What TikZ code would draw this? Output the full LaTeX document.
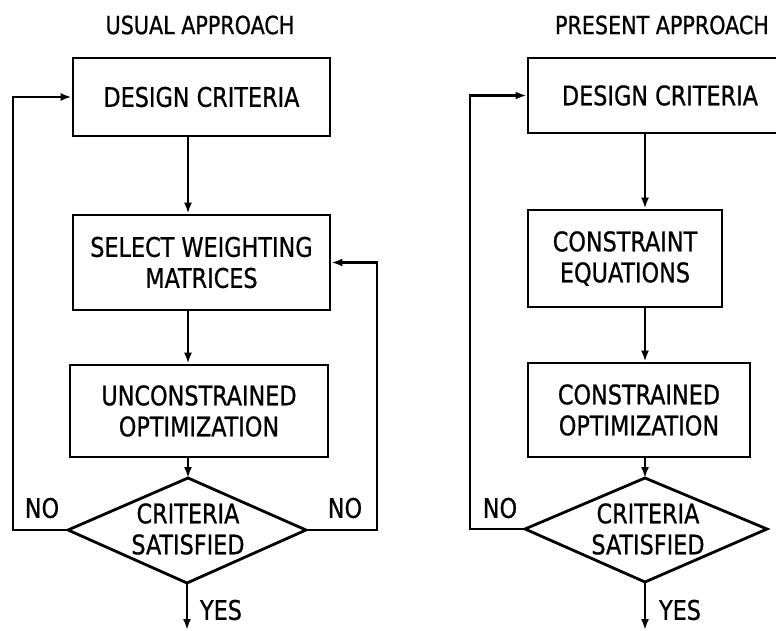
\documentclass[tikz,border=0pt]{standalone}
\usepackage{fontspec}
\setmainfont[FakeStretch=0.92,FakeBold=0.8]{DejaVu Sans Condensed}
\usetikzlibrary{arrows.meta}
\begin{document}
\begin{tikzpicture}[x=1pt,y=-1pt,
  txt/.style={font=\fontsize{27}{31}\selectfont, align=center, inner sep=0pt},
  title/.style={font=\fontsize{25}{30}\selectfont, align=center, inner sep=0pt},
  box/.style={txt, draw, line width=2.8pt},
  shapeline/.style={line width=2.8pt, line join=miter},
  conn/.style={line width=2.6pt, -{Latex[length=11pt,width=8pt]}}]
\useasboundingbox (0,0) rectangle (776,631);

% ---------- left: usual approach ----------
\node[title] (t1) at (200,25) {USUAL APPROACH};
\node[box, minimum width=257pt, minimum height=78pt] (dc1) at (201.5,97) {DESIGN CRITERIA};
\node[box, minimum width=257pt, minimum height=95pt] (sw) at (201.5,262.5) {SELECT WEIGHTING\\MATRICES};
\node[box, minimum width=258pt, minimum height=92pt] (uo) at (199,411) {UNCONSTRAINED\\OPTIMIZATION};
\coordinate (d1t) at (188,478);
\coordinate (d1r) at (306,530);
\coordinate (d1b) at (187,583);
\coordinate (d1l) at (68,530);
\draw[shapeline] (d1t) -- (d1r) -- (d1b) -- (d1l) -- cycle;
\node[txt] (d1) at (188,529) {CRITERIA\\SATISFIED};

\draw[conn] (dc1.south -| d1t) -- (sw.north -| d1t);
\draw[conn] (sw.south -| d1t) -- (uo.north -| d1t);
\draw[conn] (uo.south -| d1t) -- (d1t);
\draw[conn] (d1r) -- ++(71,0) |- (sw.east);
\draw[conn] (d1l) -- ++(-55,0) |- (dc1.west);
\coordinate (y1) at (187,630);
\draw[conn] (d1b) -- (y1);
\node[txt] (no1) at (42,508) {NO};
\node[txt] (no2) at (345,508) {NO};
\node[txt] (yes1) at (221,610) {YES};

% ---------- right: present approach ----------
\node[title] (t2) at (662,25) {PRESENT APPROACH};
\node[box, minimum width=264pt, minimum height=75pt] (dc2) at (660,95.5) {DESIGN CRITERIA};
\node[box, minimum width=194pt, minimum height=97pt] (ce) at (625,258.5) {CONSTRAINT\\EQUATIONS};
\node[box, minimum width=222pt, minimum height=94pt] (co) at (639,410) {CONSTRAINED\\OPTIMIZATION};
\coordinate (d2t) at (645,478);
\coordinate (d2r) at (767,529);
\coordinate (d2b) at (645,582);
\coordinate (d2l) at (525,529);
\draw[shapeline] (d2t) -- (d2r) -- (d2b) -- (d2l) -- cycle;
\node[txt] (d2) at (648,529) {CRITERIA\\SATISFIED};

\draw[conn] (dc2.south -| d2t) -- (ce.north -| d2t);
\draw[conn] (ce.south -| d2t) -- (co.north -| d2t);
\draw[conn] (co.south -| d2t) -- (d2t);
\draw[conn] (d2l) -- ++(-55,0) |- (dc2.west);
\coordinate (y2) at (645,630);
\draw[conn] (d2b) -- (y2);
\node[txt] (no3) at (500,508) {NO};
\node[txt] (yes2) at (680,610) {YES};
\end{tikzpicture}
\end{document}
